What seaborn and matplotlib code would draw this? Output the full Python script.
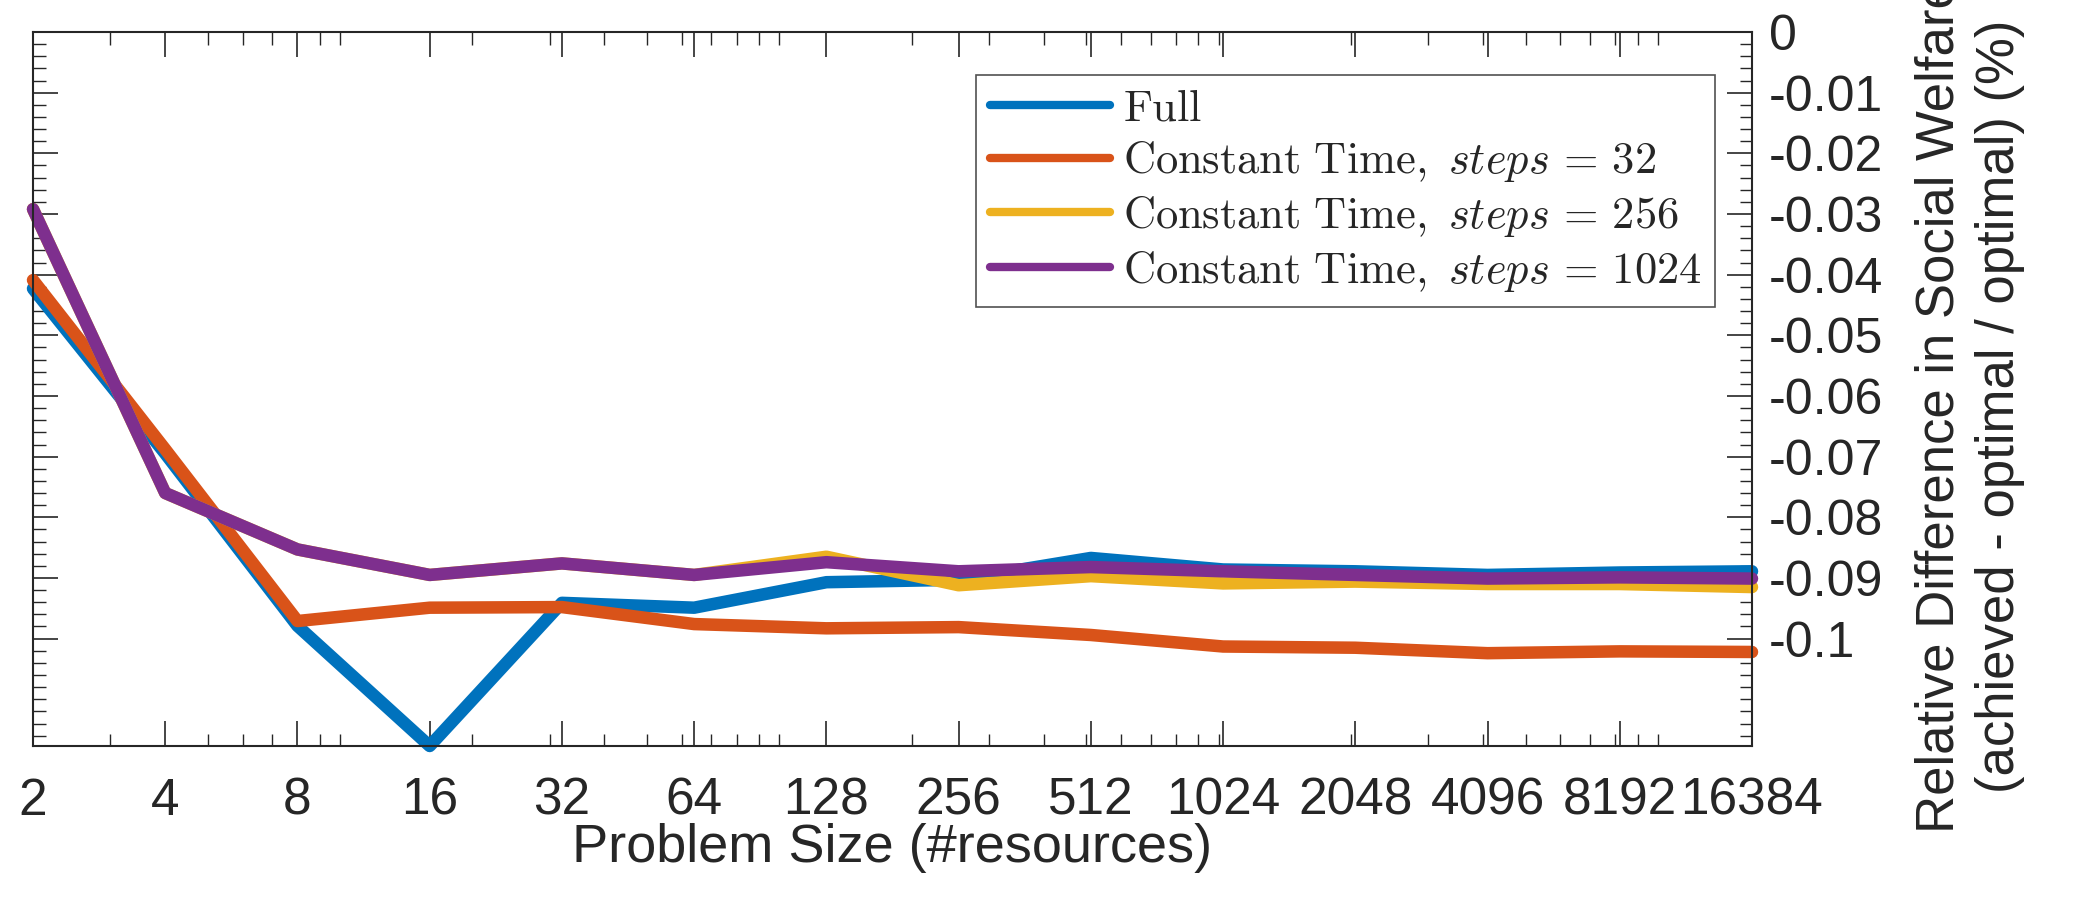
import numpy as np
import pandas as pd
import matplotlib
matplotlib.use('Agg')
import matplotlib.pyplot as plt
import seaborn as sns
from matplotlib.ticker import FixedLocator, LogLocator, NullFormatter

# values
sizes = [2, 4, 8, 16, 32, 64, 128, 256, 512, 1024, 2048, 4096, 8192, 16384]
full = [-0.0423, -0.0695, -0.0979, -0.1177, -0.0941, -0.0949, -0.0907,
        -0.0903, -0.0867, -0.0886, -0.0889, -0.0895, -0.0891, -0.0889]
ct32 = [-0.0409, -0.0688, -0.0971, -0.0949, -0.0948, -0.0976, -0.0983,
        -0.0981, -0.0994, -0.1013, -0.1015, -0.1024, -0.1021, -0.1022]
ct256 = [-0.0292, -0.0760, -0.0853, -0.0895, -0.0876, -0.0895, -0.0865,
         -0.0912, -0.0897, -0.0909, -0.0906, -0.0910, -0.0910, -0.0915]
ct1024 = [-0.0292, -0.0760, -0.0853, -0.0895, -0.0876, -0.0895, -0.0874,
          -0.0889, -0.0882, -0.0889, -0.0895, -0.0901, -0.0899, -0.0901]
labels = [r'$\mathrm{Full}$',
          r'$\mathrm{Constant\ Time,}\ steps\,=\,32$',
          r'$\mathrm{Constant\ Time,}\ steps\,=\,256$',
          r'$\mathrm{Constant\ Time,}\ steps\,=\,1024$']
colors = ['#0072BD', '#D95319', '#EDB120', '#7E2F8E']
yticks = [0, -0.01, -0.02, -0.03, -0.04, -0.05, -0.06, -0.07, -0.08, -0.09, -0.1]
ytick_labels = ['0', '-0.01', '-0.02', '-0.03', '-0.04', '-0.05', '-0.06',
                '-0.07', '-0.08', '-0.09', '-0.1']

df = pd.concat([
    pd.DataFrame({'size': sizes, 'diff': vals, 'series': lab})
    for vals, lab in zip([full, ct32, ct256, ct1024], labels)
])

sns.set_style('ticks')
plt.rcParams['font.family'] = ['Liberation Sans', 'DejaVu Sans']
plt.rcParams['mathtext.fontset'] = 'cm'
plt.rcParams['axes.unicode_minus'] = False

fig = plt.figure(figsize=(21, 9), dpi=100)
ax = fig.add_axes([33 / 2100, 154 / 900, 1719 / 2100, 714 / 900])

sns.lineplot(data=df, x='size', y='diff', hue='series', hue_order=labels,
             palette=colors, linewidth=9, ax=ax, clip_on=False)

ax.set_xscale('log', base=2)
ax.set_xlim(2, 16384)
ax.set_ylim(-0.1177, 0)
ax.xaxis.set_major_locator(FixedLocator(sizes))
ax.set_xticklabels([str(s) for s in sizes])
ax.xaxis.set_minor_locator(LogLocator(base=10, subs=np.arange(1, 10), numticks=100))
ax.xaxis.set_minor_formatter(NullFormatter())
ax.set_yticks(yticks)
ax.set_yticklabels(ytick_labels)
ax.set_yticks(np.arange(0, -0.118, -0.002), minor=True)

ax.yaxis.tick_right()
ax.tick_params(which='both', direction='in', top=True, left=True, right=True,
               bottom=True, color='#262626', labelcolor='#262626')
ax.tick_params(which='major', length=18, width=1.2)
ax.tick_params(which='minor', length=9, width=1.0)
ax.tick_params(axis='x', pad=22, labelsize=37)
ax.tick_params(axis='y', pad=12, labelsize=36)
for sp in ax.spines.values():
    sp.set_visible(True)
    sp.set_color('#262626')
    sp.set_linewidth(1.5)

ax.set_xlabel('Problem Size (#resources)', fontsize=39, color='#262626', labelpad=-2)
ax.set_ylabel('')
fig.text(0.938, 0.549, 'Relative Difference in Social Welfare\n(achieved - optimal / optimal) (%)',
         rotation=90, ha='center', va='center', multialignment='center',
         fontsize=38, color='#262626', linespacing=1.25)

leg = ax.legend(loc='upper right', bbox_to_anchor=(0.9785, 0.9398), fontsize=32,
                frameon=True, fancybox=False, handlelength=2.7, handletextpad=0.3,
                labelspacing=0.22, borderpad=0.3, borderaxespad=0)
leg.get_frame().set_edgecolor('#262626')
leg.get_frame().set_linewidth(1.2)
for line in leg.get_lines():
    line.set_linewidth(6)

fig.savefig('out.png', dpi=100)
